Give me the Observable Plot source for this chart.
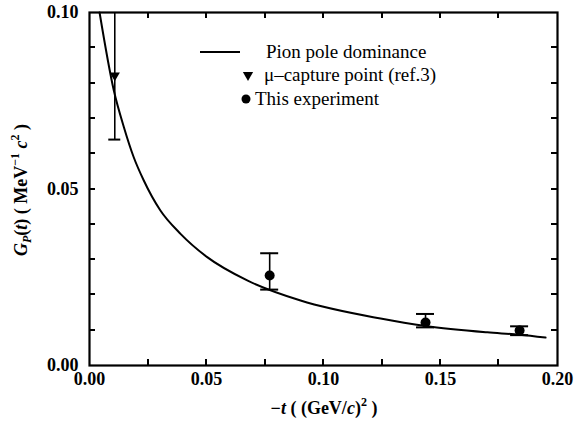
<!DOCTYPE html>
<html><head><meta charset="utf-8">
<script src="https://cdn.jsdelivr.net/npm/d3@7"></script>
<script src="https://cdn.jsdelivr.net/npm/@observablehq/plot@0.6"></script>
<style>body{margin:0;background:#fff}</style>
</head><body><div id="chart"></div>
<script>
// Pion pole dominance curve
const curveT = [0.0043, 0.0104, 0.0147, 0.0189, 0.0232, 0.0303, 0.0389, 0.0503, 0.0674, 0.0902, 0.1244, 0.1436, 0.17, 0.1838, 0.1949];
const curveG = [0.100, 0.0779, 0.0675, 0.059, 0.0524, 0.0439, 0.0373, 0.0307, 0.0241, 0.0184, 0.0133, 0.0112, 0.0094, 0.0087, 0.0079];
// mu-capture point (ref.3)
const muT = [0.0108], muG = [0.0822], muLo = [0.064], muHi = [0.100];
// This experiment
const expT = [0.077, 0.1436, 0.1838];
const expG = [0.0255, 0.0122, 0.0099];
const expLo = [0.0215, 0.0108, 0.0086];
const expHi = [0.0318, 0.0146, 0.0111];
// ticks
const xTicks = [0, 0.05, 0.10, 0.15, 0.20];
const xMinor = [0.025, 0.05, 0.075, 0.10, 0.125, 0.15, 0.175];
const yTicks = [0, 0.05, 0.10];
const yMinor = [0.01, 0.02, 0.03, 0.04, 0.05, 0.06, 0.07, 0.08, 0.09];

const curve = curveT.map((t, i) => ({t, g: curveG[i]}));
const mu = muT.map((t, i) => ({t, g: muG[i], lo: muLo[i], hi: muHi[i]}));
const exp = expT.map((t, i) => ({t, g: expG[i], lo: expLo[i], hi: expHi[i]}));

const W = 576, H = 425, ML = 89, MR = 19, MT = 12, MB = 60, TL = 6;
const font = "'Liberation Serif', 'Times New Roman', serif";
const fmt = d3.format(".2f");
const plot = Plot.plot({
  width: W, height: H,
  marginLeft: ML, marginRight: MR, marginTop: MT, marginBottom: MB,
  style: {fontFamily: font, fontSize: "18px", color: "#000", background: "#fff"},
  x: {domain: [0, 0.2]},
  y: {domain: [0, 0.1]},
  marks: [
    Plot.axisX(xTicks, {tickSize: 0, tickPadding: 7, tickFormat: fmt, label: null, fontWeight: "bold", fontSize: 18}),
    Plot.axisY(yTicks, {tickSize: 0, tickPadding: 11, tickFormat: fmt, label: null, fontWeight: "bold", fontSize: 18}),
    Plot.frame({stroke: "#000", strokeWidth: 2.2}),
    Plot.line(curve, {x: "t", y: "g", curve: "monotone-x", stroke: "#000", strokeWidth: 2}),
    Plot.ruleX(mu, {x: "t", y1: "lo", y2: "hi", stroke: "#000", strokeWidth: 1.6}),
    Plot.ruleY(mu, {y: "lo", x1: "t", x2: "t", insetLeft: -6, insetRight: -6, stroke: "#000", strokeWidth: 2}),
    Plot.dot(mu, {x: "t", y: "g", symbol: "triangle", rotate: 180, r: 3.8, fill: "#000", stroke: null}),
    Plot.ruleX(exp, {x: "t", y1: "lo", y2: "hi", stroke: "#000", strokeWidth: 1.6}),
    Plot.ruleY(exp, {y: "lo", x1: "t", x2: "t", insetLeft: -9, insetRight: -9, stroke: "#000", strokeWidth: 2}),
    Plot.ruleY(exp, {y: "hi", x1: "t", x2: "t", insetLeft: -9, insetRight: -9, stroke: "#000", strokeWidth: 2}),
    Plot.dot(exp, {x: "t", y: "g", r: 5, fill: "#000", stroke: null})
  ]
});
document.getElementById("chart").appendChild(plot);

const svg = d3.select(plot);
const sx = plot.scale("x"), sy = plot.scale("y");
const x0 = ML, x1 = W - MR, y0 = H - MB, y1 = MT;
// inward minor ticks on all four sides, placed through Plot's own scales
const tg = svg.append("g");
function tick(ax, ay, bx, by) {
  tg.append("path").attr("d", `M${ax},${ay}L${bx},${by}`)
    .attr("stroke", "black").attr("stroke-width", 2).attr("fill", "none");
}
for (const v of xMinor) {
  const px = Math.round(sx.apply(v));
  tick(px, y0, px, y0 - TL);
  tick(px, y1, px, y1 + TL);
}
for (const v of yMinor) {
  const py = Math.round(sy.apply(v));
  tick(x0, py, x0 + TL, py);
  tick(x1, py, x1 - TL, py);
}

// y-axis title
const yl = svg.append("text")
  .attr("transform", "translate(27,190) rotate(-90)")
  .attr("text-anchor", "middle")
  .attr("font-family", font).attr("font-size", 18).attr("font-weight", "bold").attr("fill", "#000");
yl.append("tspan").attr("font-style", "italic").text("G");
yl.append("tspan").attr("font-style", "italic").attr("font-size", 12).attr("dy", 4).text("P");
yl.append("tspan").attr("dy", -4).text("(");
yl.append("tspan").attr("font-style", "italic").text("t");
yl.append("tspan").text(") ( MeV");
yl.append("tspan").attr("font-size", 12).attr("dy", -8).text("−1");
yl.append("tspan").attr("dy", 8).text(" ");
yl.append("tspan").attr("font-style", "italic").text("c");
yl.append("tspan").attr("font-size", 12).attr("dy", -8).text("2");
yl.append("tspan").attr("dy", 8).text(" )");

// x-axis title
const xl = svg.append("text")
  .attr("x", 324).attr("y", 414)
  .attr("text-anchor", "middle")
  .attr("font-family", font).attr("font-size", 18).attr("font-weight", "bold").attr("fill", "#000");
xl.append("tspan").text("−");
xl.append("tspan").attr("font-style", "italic").text("t");
xl.append("tspan").text(" ( (GeV/");
xl.append("tspan").attr("font-style", "italic").text("c");
xl.append("tspan").text(")");
xl.append("tspan").attr("font-size", 12).attr("dy", -8).text("2");
xl.append("tspan").attr("dy", 8).text(" )");

// legend
const lg = svg.append("g").attr("font-family", font).attr("font-size", 19).attr("fill", "#000").attr("text-anchor", "start");
lg.append("line").attr("x1", 200).attr("x2", 240).attr("y1", 52).attr("y2", 52).attr("stroke", "#000").attr("stroke-width", 2);
lg.append("text").attr("x", 266).attr("y", 58).text("Pion pole dominance");
lg.append("path").attr("d", d3.symbol(d3.symbolTriangle, Math.PI * 3.8 * 3.8)()).attr("transform", "translate(248,75) rotate(180)").attr("fill", "#000");
lg.append("text").attr("x", 264).attr("y", 81).text("μ–capture point (ref.3)");
lg.append("circle").attr("cx", 246).attr("cy", 99).attr("r", 4.5).attr("fill", "#000");
lg.append("text").attr("x", 255).attr("y", 105).text("This experiment");
</script>
</body></html>
